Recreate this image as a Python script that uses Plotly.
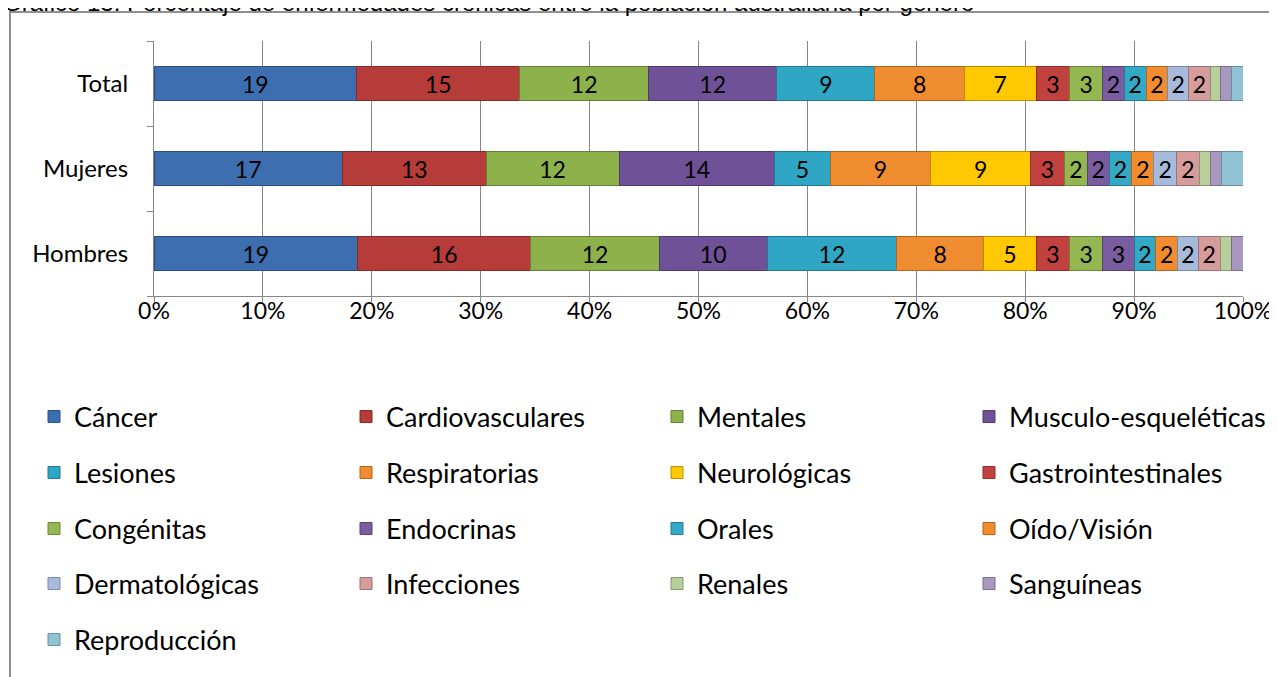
import plotly.graph_objects as go

categories = ["Hombres", "Mujeres", "Total"]
series = ["Cáncer", "Cardiovasculares", "Mentales", "Musculo-esqueléticas",
          "Lesiones", "Respiratorias", "Neurológicas", "Gastrointestinales",
          "Congénitas", "Endocrinas", "Orales", "Oído/Visión",
          "Dermatológicas", "Infecciones", "Renales", "Sanguíneas", "Reproducción"]
hombres = [18.7, 15.9, 11.8, 9.9, 11.9, 8.0, 4.8, 3.1, 3.0, 2.9, 2.0, 2.0, 1.9, 2.0, 1.0, 1.1, 0.0]
mujeres = [17.3, 13.2, 12.2, 14.3, 5.1, 9.2, 9.2, 3.1, 2.1, 2.0, 2.1, 2.0, 2.1, 2.1, 1.0, 1.0, 2.0]
total = [18.6, 15.0, 11.8, 11.8, 9.0, 8.2, 6.6, 3.1, 3.0, 2.0, 2.0, 2.0, 1.9, 2.0, 0.9, 1.0, 1.1]
labelled = 14  # the last three series carry no value labels
colors = ["#3d6fb0", "#b53c38", "#8db24c", "#6f5198", "#2fa6c3", "#ef8c30",
          "#ffc800", "#c0413e", "#94b752", "#7a5ca0", "#33a9c6", "#f28c2f",
          "#a6badb", "#d59c9b", "#b9cf9b", "#a898bf", "#90c4d5"]
lines = ["#2a4f80", "#842a27", "#64803a", "#4f3a6e", "#217890", "#b0641f",
         "#b88f00", "#8a2e2c", "#6a843a", "#584274", "#247c92", "#b0651f",
         "#7a8aa4", "#9c7272", "#869670", "#7a6e8c", "#6890a0"]

# page offset (body margin) and target plot area in window pixels
OFF = 8
PL, PR, PT, PB = 154, 1243, 41, 296

def px_x(p):
    return (p - PL) / float(PR - PL)

def px_y(p):
    return (PB - p) / float(PB - PT)

col_x = [50, 362, 673, 985]
row_y = [417, 473, 529, 584, 640]

fig = go.Figure()
legends = {}
for i, name in enumerate(series):
    key = "legend" if i == 0 else "legend%d" % (i + 1)
    legends[key] = dict(
        orientation="h", x=px_x(col_x[i % 4] - 16), y=px_y(row_y[i // 4]),
        xanchor="left", yanchor="middle", traceorder="normal",
        font=dict(family="Lato", size=27, color="black"),
        bgcolor="rgba(0,0,0,0)", itemwidth=30,
    )
    fig.add_trace(go.Bar(
        y=categories, x=[hombres[i], mujeres[i], total[i]], name=name,
        orientation="h",
        marker=dict(color=colors[i], line=dict(color=lines[i], width=1)),
        texttemplate="%{x:.0f}" if i < labelled else "",
        textposition="inside", insidetextanchor="middle",
        textangle=0, constraintext="none", cliponaxis=False,
        textfont=dict(family="Lato", size=23, color="black"),
        legend=key, hoverinfo="x+name",
    ))

W, H = 1277, 677
fig.update_layout(
    width=W, height=H,
    margin=dict(l=PL - OFF, r=W - (PR - OFF), t=PT - OFF, b=H - (PB - OFF), autoexpand=False),
    barmode="stack", bargap=0.61,
    paper_bgcolor="white", plot_bgcolor="white",
    font=dict(family="Lato", size=23, color="black"),
    showlegend=True,
    xaxis=dict(range=[0, 100], dtick=10, ticksuffix="%", showgrid=True,
               gridcolor="#878787", gridwidth=1, showline=True, linecolor="#878787",
               linewidth=1, ticks="outside", ticklen=5, tickcolor="#878787",
               ticklabelstandoff=-11,
               zeroline=False, tickfont=dict(family="Lato", size=23), automargin=False),
    yaxis=dict(type="category", showline=True, linecolor="#878787", linewidth=1,
               ticks="outside", ticklen=6, tickcolor="#878787", tickson="boundaries",
               showgrid=False, ticklabelstandoff=20, automargin=False,
               tickfont=dict(family="Lato", size=24)),
    **legends,
)

# chart frame (decoration)
fig.add_shape(type="rect", xref="paper", yref="paper",
              x0=px_x(10), x1=px_x(1320), y0=px_y(720), y1=px_y(12),
              line=dict(color="#8f8f8f", width=2), fillcolor="rgba(0,0,0,0)", layer="below")

fig.add_annotation(
    text="Gráfico 13: Porcentaje de enfermedades crónicas entre la población australiana por género",
    xref="paper", yref="paper", x=px_x(1), y=px_y(18), xanchor="left", yanchor="bottom",
    showarrow=False, font=dict(family="Liberation Sans", size=24, color="black"),
)

fig.write_html("out.html")
